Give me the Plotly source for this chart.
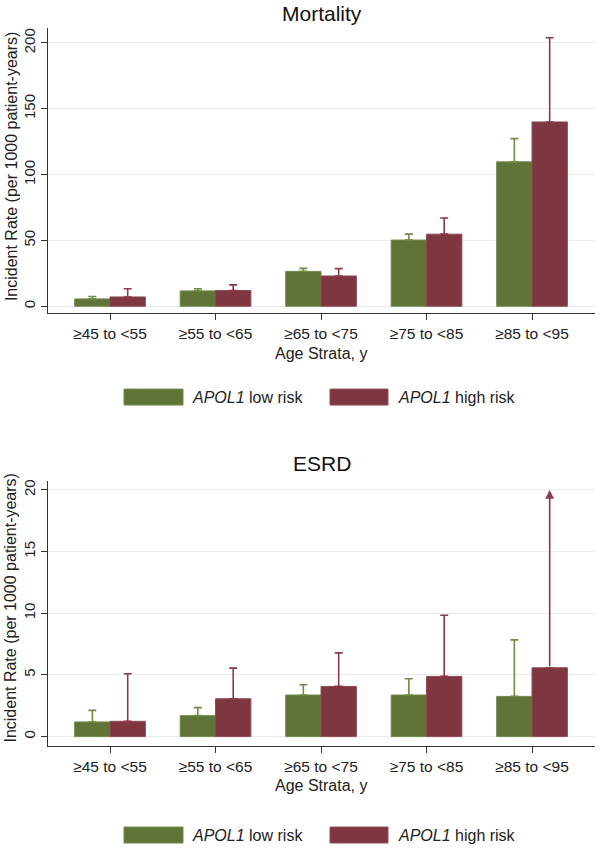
import numpy as np
import plotly.graph_objects as go

# ---------------- data ----------------
categories = ["≥45 to <55", "≥55 to <65", "≥65 to <75", "≥75 to <85", "≥85 to <95"]

mort_low = [5.6, 11.7, 26.5, 50.3, 109.7]
mort_low_upper = [7.4, 13.3, 28.8, 54.8, 127.3]
mort_high = [7.1, 12.0, 23.0, 54.8, 140.0]
mort_high_upper = [13.3, 16.3, 28.6, 67.0, 204.0]

esrd_low = [1.19, 1.70, 3.37, 3.37, 3.26]
esrd_low_upper = [2.13, 2.35, 4.20, 4.69, 7.84]
esrd_high = [1.24, 3.07, 4.07, 4.88, 5.58]
esrd_high_upper = [5.09, 5.55, 6.79, 9.84, 20.0]
esrd_high_truncated = [False, False, False, False, True]

series_names = ["<i>APOL1</i> low risk", "<i>APOL1</i> high risk"]
panel_titles = ["Mortality", "ESRD"]
y_title = "Incident Rate (per 1000 patient-years)"
x_title = "Age Strata, y"
mort_ticks = [0, 50, 100, 150, 200]
esrd_ticks = [0, 5, 10, 15, 20]

# ---------------- style ----------------
W, H = 600, 849
FONT = "Liberation Sans, Arial, Helvetica, sans-serif"
GREEN, GREEN_LINE, GREEN_ERR = "#5f7436", "#718848", "#6e8c42"
RED, RED_LINE, RED_ERR = "#7e3640", "#904a54", "#8c3a46"
AXIS_COL = "#333333"
GRID_COL = "#e6edf1"

BW = 0.335          # bar width in category units
HALF = BW / 2

def py(px):
    return 1 - px / H

def pxx(px):
    return px / W

idx = np.arange(len(categories))
x_low = idx - HALF
x_high = idx + HALF

fig = go.Figure()

def add_panel(low, low_up, high, high_up, trunc, xa, ya):
    low = np.array(low, float)
    high = np.array(high, float)
    e_low = np.array(low_up, float) - low
    e_high = np.array(high_up, float) - high
    e_high = np.where(np.array(trunc), np.nan, e_high)
    fig.add_trace(go.Bar(
        x=x_low, y=low, width=BW, xaxis=xa, yaxis=ya,
        marker=dict(color=GREEN, line=dict(color=GREEN_LINE, width=1)),
        error_y=dict(type="data", symmetric=False, array=e_low,
                     arrayminus=np.zeros_like(low), color=GREEN_ERR,
                     thickness=1.6, width=4),
        showlegend=False, name="APOL1 low risk"))
    fig.add_trace(go.Bar(
        x=x_high, y=high, width=BW, xaxis=xa, yaxis=ya,
        marker=dict(color=RED, line=dict(color=RED_LINE, width=1)),
        error_y=dict(type="data", symmetric=False, array=e_high,
                     arrayminus=np.zeros_like(high), color=RED_ERR,
                     thickness=1.6, width=4),
        showlegend=False, name="APOL1 high risk"))
    # truncated confidence limits drawn as arrows
    for xi, v, up, t in zip(x_high, high, high_up, trunc):
        if t:
            fig.add_annotation(
                x=xi, y=up, ax=xi, ay=v, xref=xa, yref=ya,
                axref=xa, ayref=ya, text="", showarrow=True,
                arrowhead=2, arrowsize=1.1, arrowwidth=1.6,
                arrowcolor=RED_ERR, standoff=0, startstandoff=0)

add_panel(mort_low, mort_low_upper, mort_high, mort_high_upper,
          [False] * 5, "x", "y")
add_panel(esrd_low, esrd_low_upper, esrd_high, esrd_high_upper,
          esrd_high_truncated, "x2", "y2")

# ---------------- axes ----------------
X_LEFT, X_RIGHT = 48, 595
x_dom = [pxx(X_LEFT), pxx(X_RIGHT)]
x_range = [-0.588, 4.597]

xcommon = dict(
    range=x_range, domain=x_dom, tickmode="array", tickvals=idx,
    ticktext=categories, ticks="outside", ticklen=6, tickwidth=1,
    tickcolor=AXIS_COL, showline=True, linecolor=AXIS_COL, linewidth=1.2,
    showgrid=False, zeroline=False,
    tickfont=dict(family=FONT, size=15.5, color="#222222"), fixedrange=True)

ycommon = dict(
    ticks="outside", ticklen=6, tickwidth=1, tickcolor=AXIS_COL,
    showline=True, linecolor=AXIS_COL, linewidth=1.2,
    showgrid=True, gridcolor=GRID_COL, gridwidth=1, zeroline=False,
    tickangle=-90, tickfont=dict(family=FONT, size=15, color="#222222"),
    fixedrange=True)

TOP = (26, 312)      # pixel top/bottom of top panel
BOT = (480, 746)     # pixel top/bottom of bottom panel

fig.update_layout(
    width=W, height=H, autosize=False,
    margin=dict(l=0, r=0, t=0, b=0, pad=0),
    paper_bgcolor="white", plot_bgcolor="white",
    bargap=0, showlegend=False,
    font=dict(family=FONT, color="#222222"),
    xaxis=dict(**xcommon, anchor="y"),
    yaxis=dict(**ycommon, anchor="x", domain=[py(TOP[1]), py(TOP[0])],
               range=[-5.3, 211.4], tickvals=mort_ticks),
    xaxis2=dict(**xcommon, anchor="y2"),
    yaxis2=dict(**ycommon, anchor="x2", domain=[py(BOT[1]), py(BOT[0])],
                range=[-0.78, 20.73], tickvals=esrd_ticks),
)

# ---------------- titles / axis titles / legends ----------------
xc = (x_dom[0] + x_dom[1]) / 2
panels = [
    dict(title_y=12, xt_y=352, leg_y=396, ymid=(TOP[0] + 305) / 2),
    dict(title_y=463, xt_y=785, leg_y=835, ymid=(BOT[0] + 736) / 2),
]
for p, ttl in zip(panels, panel_titles):
    fig.add_annotation(text=ttl, xref="paper", yref="paper", x=xc,
                       y=py(p["title_y"]), showarrow=False,
                       font=dict(family=FONT, size=21, color="#111111"),
                       xanchor="center", yanchor="middle")
    fig.add_annotation(text=x_title, xref="paper", yref="paper", x=xc,
                       y=py(p["xt_y"]), showarrow=False,
                       font=dict(family=FONT, size=16, color="#222222"),
                       xanchor="center", yanchor="middle")
    fig.add_annotation(text=y_title, xref="paper", yref="paper",
                       x=pxx(11), y=py(p["ymid"]), textangle=-90,
                       showarrow=False,
                       font=dict(family=FONT, size=16, color="#222222"),
                       xanchor="center", yanchor="middle")
    # legend keys
    ly = p["leg_y"]
    for (x0, x1, tx), col, lc, nm in zip(
            [(124, 183, 190), (330, 388, 396)],
            [GREEN, RED], [GREEN_LINE, RED_LINE], series_names):
        fig.add_shape(type="rect", xref="paper", yref="paper",
                      x0=pxx(x0), x1=pxx(x1), y0=py(ly + 8), y1=py(ly - 8),
                      fillcolor=col, line=dict(color=lc, width=1))
        fig.add_annotation(text=nm, xref="paper", yref="paper",
                           x=pxx(tx), y=py(ly), showarrow=False,
                           xanchor="left", yanchor="middle",
                           font=dict(family=FONT, size=16, color="#222222"))

fig.write_html(
    "out.html",
    config={"displayModeBar": False, "staticPlot": True},
    post_script="document.body.style.margin='0';"
                "document.body.style.overflow='hidden';")
